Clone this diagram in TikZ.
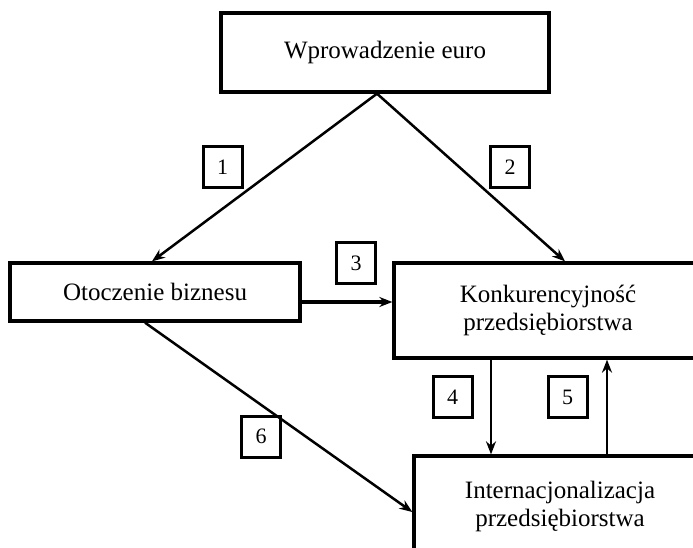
\documentclass[tikz,border=0pt]{standalone}
\usepackage{fontspec}
\setmainfont{Liberation Serif}
\usetikzlibrary{arrows.meta,calc}

\begin{document}
\begin{tikzpicture}[x=1pt, y=-1pt, >={Stealth[length=13pt,width=10pt]},
    blok/.style={draw, line width=3.3pt, rectangle, align=center, inner sep=0pt,
        font=\fontsize{25}{28}\selectfont},
    nr/.style={draw, line width=3pt, rectangle, inner sep=0pt,
        minimum width=39pt, minimum height=41pt, font=\fontsize{22}{24}\selectfont},
    strzalka/.style={->, line width=2.5pt}]

    \useasboundingbox (0,0) rectangle (693,548);
    \clip (0,0) rectangle (693,548);

    % === Bloki ===
    \node[blok, minimum width=328pt, minimum height=79pt] (euro) at (385,52.5) {Wprowadzenie euro};
    \node[blok, minimum width=290pt, minimum height=58pt] (otoczenie) at (155,292) {Otoczenie biznesu};
    \node[blok, minimum width=308pt, minimum height=95pt] (konk) at (548,310.5) {Konkurencyjność\\przedsiębiorstwa};
    \node[blok, minimum width=292pt, minimum height=100pt] (intern) at (560,506) {Internacjonalizacja\\przedsiębiorstwa};

    % === Numery ===
    \node[nr] (n1) at (222.5,167.5) {1};
    \node[nr] (n2) at (510,167.5) {2};
    \node[nr] (n3) at (356,263) {3};
    \node[nr] (n4) at (452.5,397) {4};
    \node[nr] (n5) at (567.5,397) {5};
    \node[nr] (n6) at (261,436.5) {6};

    % === Strzalki ===
    \draw[strzalka] ($(euro.south)+(-8,0)$) -- ($(otoczenie.north)+(-3,0)$);
    \draw[strzalka] ($(euro.south)+(-8,0)$) -- ($(konk.north)+(17,0)$);
    \draw[strzalka, line width=4pt] ($(otoczenie.east)+(0,10)$) -- ($(konk.west |- otoczenie.east)+(0,10)$);
    \draw[strzalka] ($(konk.south)+(-57,0)$) -- ($(intern.north)+(-69,0)$);
    \draw[strzalka] ($(intern.north)+(47,0)$) -- ($(konk.south)+(59,0)$);
    \draw[strzalka] ($(otoczenie.south)+(-10,0)$) -- ($(intern.west)+(0,6)$);

\end{tikzpicture}
\end{document}
